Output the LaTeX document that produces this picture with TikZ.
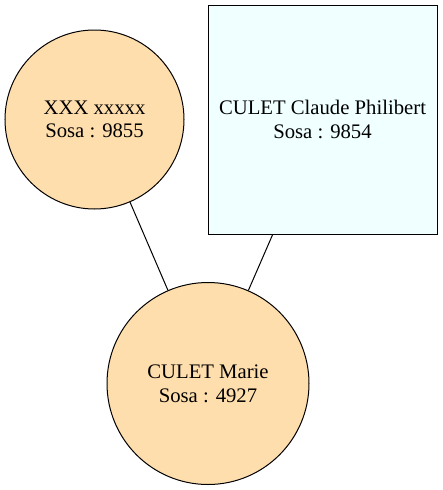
\documentclass[tikz,border=0pt]{standalone}
\usepackage{fontspec}
\setmainfont{Liberation Serif}
\usepackage{xcolor}
\usetikzlibrary{calc}
\definecolor{bg}{HTML}{FFFFFF}
\definecolor{female}{HTML}{FFDEAD}
\definecolor{male}{HTML}{F0FFFF}
\definecolor{border}{HTML}{000000}
\tikzset{
  person/.style={draw=border, line width=1pt, inner sep=0pt, align=center,
    font=\fontsize{20.7}{23.6}\selectfont},
  womanc/.style={person, circle, fill=female},
  manbox/.style={person, rectangle, fill=male},
  link/.style={draw=border, line width=1pt}
}
\begin{document}
\begin{tikzpicture}[x=1pt, y=-1pt]
  \useasboundingbox[fill=bg] (0,0) rectangle (443,490);

  % parents on top, child below
  \node[womanc, minimum size=179pt] (p9855) at (94.5,119.5) {XXX xxxxx\\Sosa : 9855};
  \node[manbox, minimum size=229pt] (p9854) at (322.5,119.5) {CULET Claude Philibert\\Sosa : 9854};
  \node[womanc, minimum size=202pt] (p4927) at (208,383.5) {CULET Marie\\Sosa : 4927};

  \draw[link] (p9855) -- (p4927);
  \draw[link] (p9854) -- (p4927);
\end{tikzpicture}
\end{document}
